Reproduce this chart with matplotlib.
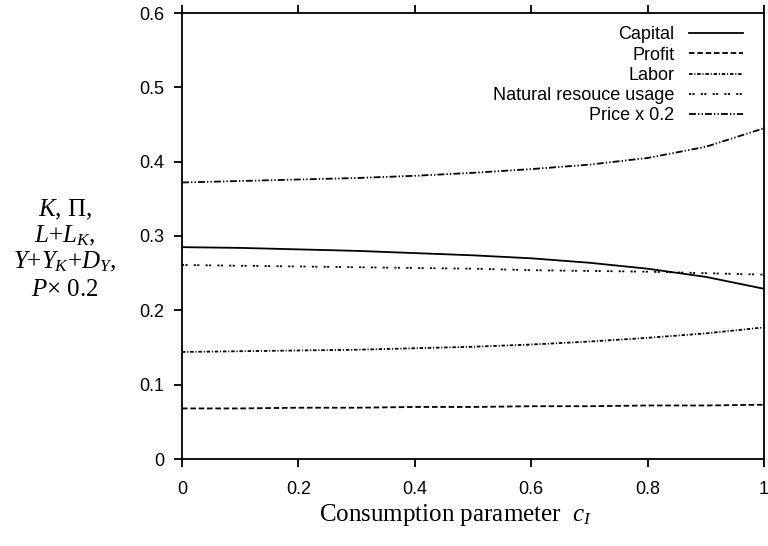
import matplotlib
matplotlib.use("Agg")
import matplotlib.pyplot as plt
import numpy as np

# data
c_I = [0.0, 0.1, 0.2, 0.3, 0.4, 0.5, 0.6, 0.7, 0.8, 0.9, 1.0]
capital = [0.285, 0.284, 0.282, 0.280, 0.277, 0.274, 0.270, 0.264, 0.256, 0.245, 0.229]
profit = [0.068, 0.068, 0.069, 0.069, 0.070, 0.070, 0.071, 0.071, 0.072, 0.072, 0.073]
labor = [0.144, 0.145, 0.146, 0.147, 0.149, 0.151, 0.154, 0.158, 0.163, 0.169, 0.177]
natural = [0.261, 0.260, 0.259, 0.258, 0.257, 0.256, 0.254, 0.253, 0.252, 0.250, 0.248]
price = [0.372, 0.374, 0.376, 0.378, 0.381, 0.385, 0.390, 0.396, 0.405, 0.420, 0.445]

xticks = [0, 0.2, 0.4, 0.6, 0.8, 1.0]
xticklabels = ['0', '0.2', '0.4', '0.6', '0.8', '1']
yticks = [0, 0.1, 0.2, 0.3, 0.4, 0.5, 0.6]
yticklabels = ['0', '0.1', '0.2', '0.3', '0.4', '0.5', '0.6']

plt.rcParams['font.family'] = ['Liberation Sans', 'DejaVu Sans']
plt.rcParams['mathtext.fontset'] = 'custom'
plt.rcParams['mathtext.rm'] = 'Liberation Serif'
plt.rcParams['mathtext.it'] = 'Liberation Serif:italic'
plt.rcParams['lines.scale_dashes'] = False

fig = plt.figure(figsize=(7.68, 5.46), dpi=100)
ax = fig.add_axes([182/768, 1-459/546, (764-182)/768, (459-13)/546])

lw = 1.3
ax.plot(c_I, capital, color='black', lw=lw, ls='-', label='Capital')
ax.plot(c_I, profit, color='black', lw=lw, ls=(0, (4, 2)), label='Profit')
ax.plot(c_I, labor, color='black', lw=lw, ls=(0, (2.5, 1.3, 0.8, 1.3)), label='Labor')
ax.plot(c_I, natural, color='black', lw=lw, ls=(0, (1.5, 1.0, 1.5, 4.5)), label='Natural resouce usage')
ax.plot(c_I, price, color='black', lw=lw, ls=(0, (5, 1.5, 1, 1.5, 1, 1.5)), label='Price x 0.2')

ax.set_xlim(0, 1)
ax.set_ylim(0, 0.6)
ax.set_xticks(xticks)
ax.set_xticklabels(xticklabels)
ax.set_yticks(yticks)
ax.set_yticklabels(yticklabels)
ax.tick_params(axis='x', direction='out', length=6, width=1.3, top=True, labelsize=13, pad=10)
ax.tick_params(axis='y', direction='out', length=6, width=1.3, right=False, labelsize=13, pad=7)
for s in ax.spines.values():
    s.set_linewidth(1.3)

ax.legend(loc='upper right', bbox_to_anchor=(0.964, 0.97), frameon=False, markerfirst=False,
          fontsize=13, handlelength=3.0, handletextpad=0.8, labelspacing=0.18,
          borderaxespad=0, borderpad=0)

# y label, one line per row in serif
serif = ['Liberation Serif', 'DejaVu Serif']
ylines = [r'$K$, $\Pi$,', r'$L$+$L_K$,', r'$Y$+$Y_K$+$D_Y$,', r'$P$$\times$ 0.2']
ypos = [210, 236, 262, 290]
for t, yp in zip(ylines, ypos):
    fig.text(65/768, 1-yp/546, t, ha='center', va='center', fontsize=18, family=serif)

fig.text(456/768, 1-515/546, r'Consumption parameter  $c_I$', ha='center', va='center',
         fontsize=18, family=serif)

fig.savefig('out.png', dpi=100)
